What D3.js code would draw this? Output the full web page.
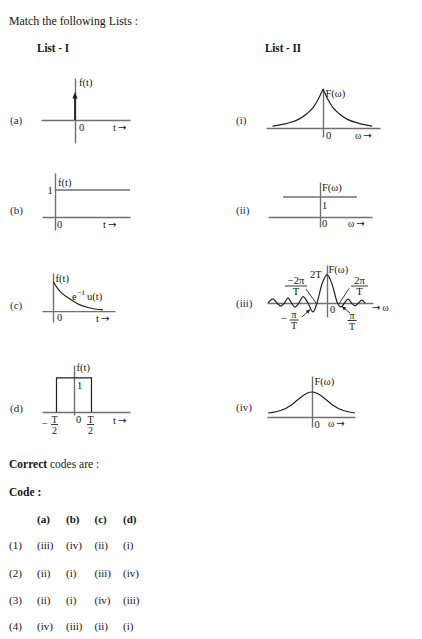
<!DOCTYPE html>
<html><head><meta charset="utf-8">
<script src="https://cdn.jsdelivr.net/npm/d3@7"></script>
<style>
body{margin:0;background:#fff}
svg{display:block}
text{font-family:"Liberation Serif","DejaVu Serif",serif;fill:#151515}
</style>
</head><body><svg id="c" width="422" height="639"></svg>
<script>
// ---------- data ----------
const listHeaders = ["List - I", "List - II"];
const leftLabels = ["(a)", "(b)", "(c)", "(d)"];
const rightLabels = ["(i)", "(ii)", "(iii)", "(iv)"];
const codeHeaders = ["(a)", "(b)", "(c)", "(d)"];
const codeOptions = ["(1)", "(2)", "(3)", "(4)"];
const codeRow1 = ["(iii)", "(iv)", "(ii)", "(i)"];
const codeRow2 = ["(ii)", "(i)", "(iii)", "(iv)"];
const codeRow3 = ["(ii)", "(i)", "(iv)", "(iii)"];
const codeRow4 = ["(iv)", "(iii)", "(ii)", "(i)"];

// (a) impulse
const impulseT = [0], impulseV = [1];
// (b) unit step
const stepT = [0, 3.75], stepV = [1, 1];
// (c) e^-t u(t)
const expT = [0.02, 0.2, 0.4, 0.7, 1.0, 1.35, 1.8, 2.5];
const expV = [1.05, 0.84, 0.67, 0.5, 0.36, 0.22, 0.12, 0.04];
// (d) rectangular pulse, t in units of T
const pulseT = [-0.5, -0.5, 0.5, 0.5], pulseV = [0, 1, 1, 0];
// (i) two-sided exponential spectrum
const lapLeftW = [-4.2, -3.0, -2.0, -1.3, -0.8, -0.4, -0.15, 0];
const lapLeftF = [0.05, 0.12, 0.23, 0.38, 0.54, 0.74, 0.9, 1.0];
const lapRightW = [0, 0.15, 0.4, 0.8, 1.3, 2.0, 3.0, 4.1];
const lapRightF = [1.0, 0.9, 0.74, 0.54, 0.38, 0.23, 0.12, 0.05];
// (ii) flat spectrum
const flatW = [-1.85, 1.85], flatF = [1, 1];
// (iii) sinc spectrum, w in pi/T, F in T
const sincW = [-5.9, -5.4, -5.0, -4.6, -4.25, -3.9, -3.55, -3.2, -2.8, -2.4, -1.9, -1.4, -1.0, -0.5, 0, 0.5, 1.05, 1.4, 1.75, 2.1, 2.45, 2.8, 3.15, 3.5, 3.8];
const sincF = [0, 0.3, 0, -0.22, 0, 0.36, 0, -0.3, 0, 0.46, 0, -0.64, 0, 1.35, 2.0, 1.35, 0, -0.28, 0, 0.28, 0, -0.2, 0, 0.2, 0];
// (iv) gaussian spectrum
const gaussW = [-4.4, -3.6, -2.8, -2.0, -1.2, -0.5, 0, 0.5, 1.2, 2.0, 2.8, 3.6, 4.3];
const gaussF = [0.16, 0.21, 0.31, 0.5, 0.76, 0.95, 1.0, 0.95, 0.76, 0.5, 0.31, 0.21, 0.16];

// ---------- drawing ----------
const svg = d3.select("#c");
svg.append("rect").attr("width", 422).attr("height", 639).attr("fill", "#fff");

const AX = "#707070", CUR = "#222";
function txt(x, y, s, o = {}) {
  const t = svg.append("text").attr("x", x).attr("y", y).text(s)
    .attr("font-size", o.size || 11);
  if (o.bold) t.attr("font-weight", "bold");
  if (o.anchor) t.attr("text-anchor", o.anchor);
  if (o.fill) t.style("fill", o.fill);
  if (o.len) t.attr("textLength", o.len).attr("lengthAdjust", "spacingAndGlyphs");
  return t;
}
function arrowText(x, y, letter, size) {
  const t = svg.append("text").attr("x", x).attr("y", y).attr("font-size", size || 10.5);
  t.append("tspan").text(letter);
  t.append("tspan").attr("dx", 2).attr("font-family", "DejaVu Sans").attr("font-size", 10).text("\u2192");
  return t;
}
function panel(xd, xr, yd, yr) {
  const x = d3.scaleLinear().domain(xd).range(xr);
  const y = d3.scaleLinear().domain(yd).range(yr);
  const g = svg.append("g");
  g.append("g").attr("transform", `translate(0,${y(0)})`)
    .call(d3.axisBottom(x).tickValues([]).tickSizeOuter(0))
    .select(".domain").attr("stroke", AX).attr("stroke-width", 1.4);
  g.append("g").attr("transform", `translate(${x(0)},0)`)
    .call(d3.axisLeft(y).tickValues([]).tickSizeOuter(0))
    .select(".domain").attr("stroke", AX).attr("stroke-width", 1.4);
  return { x, y, g };
}
function plot(p, T, V, color, width, curve) {
  const line = d3.line().x(d => p.x(d[0])).y(d => p.y(d[1]));
  if (curve) line.curve(curve);
  p.g.append("path").datum(d3.zip(T, V)).attr("d", line)
    .attr("fill", "none").attr("stroke", color).attr("stroke-width", width);
}
function frac(cx, yb, num, den, w, size) {
  txt(cx, yb - 2, num, { size: size || 10, anchor: "middle" });
  svg.append("line").attr("x1", cx - w / 2).attr("x2", cx + w / 2).attr("y1", yb).attr("y2", yb)
    .attr("stroke", "#222").attr("stroke-width", 0.9);
  txt(cx, yb + 9, den, { size: size || 10, anchor: "middle" });
}
function pointer(x1, y1, x2, y2, head) {
  svg.append("line").attr("x1", x1).attr("y1", y1).attr("x2", x2).attr("y2", y2)
    .attr("stroke", "#222").attr("stroke-width", 0.9);
  if (head) {
    const a = Math.atan2(y2 - y1, x2 - x1), L = 4, W = 2;
    const bx = x2 - L * Math.cos(a), by = y2 - L * Math.sin(a);
    svg.append("path").attr("d",
      `M${x2},${y2}L${bx - W * Math.sin(a)},${by + W * Math.cos(a)}L${bx + W * Math.sin(a)},${by - W * Math.cos(a)}Z`)
      .attr("fill", "#222");
  }
}

// Title texts
txt(9, 24.5, "Match the following Lists :", { size: 12, len: 129 });
txt(37, 51.5, listHeaders[0], { size: 11.5, bold: true, len: 32 });
txt(265, 51.5, listHeaders[1], { size: 11.5, bold: true, len: 36 });

// Row labels
const LBL = "#202850";
const labelY = [124, 214, 309, 412];
const rlabelY = [124, 214, 307, 411];
leftLabels.forEach((s, i) => txt(10, labelY[i], s, { size: 11, fill: LBL }));
rightLabels.forEach((s, i) => txt(236, rlabelY[i], s, { size: 11, fill: LBL }));

// (a) impulse
{
  const p = panel([-1.7, 2.75], [41, 130], [-0.82, 1.5], [143, 78]);
  const x0 = p.x(impulseT[0]), yt = p.y(impulseV[0]);
  p.g.append("line").attr("x1", x0).attr("x2", x0).attr("y1", p.y(0)).attr("y2", yt + 5)
    .attr("stroke", CUR).attr("stroke-width", 1.8);
  p.g.append("path").attr("d", `M${x0},${yt}L${x0 - 2.6},${yt + 6.5}L${x0 + 2.6},${yt + 6.5}Z`).attr("fill", CUR);
  txt(79, 86, "f(t)", { size: 10.5 });
  txt(79, 131, "0", { size: 10.5 });
  arrowText(113, 131, "t");
}
// (i)
{
  const p = panel([-4.75, 4.75], [266, 380], [-0.23, 1.03], [137, 88]);
  plot(p, lapLeftW, lapLeftF, CUR, 1.2, d3.curveMonotoneX);
  plot(p, lapRightW, lapRightF, CUR, 1.2, d3.curveMonotoneX);
  txt(325.5, 97, "F(\u03c9)", { size: 10.5 });
  txt(326, 138.5, "0", { size: 10.5 });
  arrowText(355, 138.5, "\u03c9", 9.5);
}
// (b)
{
  const p = panel([-0.65, 3.75], [42, 130], [-0.48, 1.63], [230, 173]);
  plot(p, stepT, stepV, AX, 1.4);
  txt(58, 186, "f(t)", { size: 10.5 });
  txt(47.5, 194, "1", { size: 10.5 });
  txt(57, 228, "0", { size: 10.5 });
  arrowText(103, 228, "t");
}
// (ii)
{
  const p = panel([-2.6, 2.6], [268, 372], [-0.5, 1.75], [227, 182]);
  plot(p, flatW, flatF, AX, 1.4);
  txt(322, 191, "F(\u03c9)", { size: 10.5 });
  txt(322, 208.5, "1", { size: 10.5 });
  txt(322, 227, "0", { size: 10.5 });
  arrowText(348, 226.5, "\u03c9", 9.5);
}
// (c)
{
  const p = panel([-0.55, 3.1], [42, 115], [-0.39, 1.36], [322, 273]);
  plot(p, expT, expV, CUR, 1.2, d3.curveMonotoneX);
  txt(55.5, 282, "f(t)", { size: 10.5 });
  txt(72, 299.5, "e", { size: 10.5 });
  txt(77.5, 295, "\u2212t", { size: 8.5 });
  txt(87, 299.5, "u(t)", { size: 10.5 });
  txt(57, 321, "0", { size: 10.5 });
  arrowText(96, 322, "t");
}
// (iii)
{
  const p = panel([-6, 4.6], [267, 373], [-1.0, 2.71], [317, 265]);
  plot(p, sincW, sincF, CUR, 1.2, d3.curveMonotoneX);
  txt(310, 277.5, "2T", { size: 10.5 });
  txt(328.5, 272.5, "F(\u03c9)", { size: 10.5 });
  txt(330, 313, "0", { size: 10.5 });
  frac(296, 286, "\u22122\u03c0", "T", 22, 10.5);
  frac(359.5, 286, "2\u03c0", "T", 17, 10.5);
  pointer(306, 289, 316, 303, false);
  pointer(349, 288.5, 339, 304, false);
  txt(281, 322, "\u2212", { size: 10.5 });
  frac(294, 320, "\u03c0", "T", 9, 10);
  frac(352, 320.5, "\u03c0", "T", 9, 10);
  pointer(302, 317, 310, 309.5, true);
  pointer(350, 313, 342, 306.5, true);
  const a = svg.append("text").attr("x", 372).attr("y", 310.5).attr("font-size", 9.5);
  a.append("tspan").attr("font-family", "DejaVu Sans").attr("font-size", 10).text("\u2192");
  a.append("tspan").attr("dx", 2).text("\u03c9");
}
// (d)
{
  const p = panel([-0.914, 1.6], [42, 130], [-0.088, 1.38], [415, 365]);
  plot(p, pulseT, pulseV, CUR, 1.2);
  txt(76.5, 371, "f(t)", { size: 10.5 });
  txt(77, 389, "1", { size: 10.5 });
  txt(76, 423, "0", { size: 10.5 });
  txt(42, 427, "\u2212", { size: 10.5 });
  frac(54.5, 424.5, "T", "2", 7, 10);
  frac(90.5, 424.5, "T", "2", 7, 10);
  arrowText(113, 423.5, "t");
}
// (iv)
{
  const p = panel([-4.5, 4.3], [267, 355], [-0.4, 1.64], [427, 376]);
  plot(p, gaussW, gaussF, CUR, 1.2, d3.curveMonotoneX);
  txt(314.5, 385, "F(\u03c9)", { size: 10.5 });
  txt(314.5, 427.5, "0", { size: 10.5 });
  arrowText(328, 427, "\u03c9", 9.5);
}

// Codes
{
  const t = svg.append("text").attr("x", 9).attr("y", 468).attr("font-size", 11.5);
  t.append("tspan").attr("font-weight", "bold").text("Correct");
  t.append("tspan").text(" codes are :");
}
txt(9, 496, "Code :", { size: 11.5, bold: true });
const colX = [37, 66, 94.5, 123];
codeHeaders.forEach((s, i) => txt(colX[i], 523, s, { size: 11, bold: true }));
const rowsY = [549, 577, 603.5, 630];
[codeRow1, codeRow2, codeRow3, codeRow4].forEach((row, r) => {
  txt(9, rowsY[r], codeOptions[r], { size: 11 });
  row.forEach((s, i) => txt(colX[i], rowsY[r], s, { size: 11 }));
});
</script></body></html>
